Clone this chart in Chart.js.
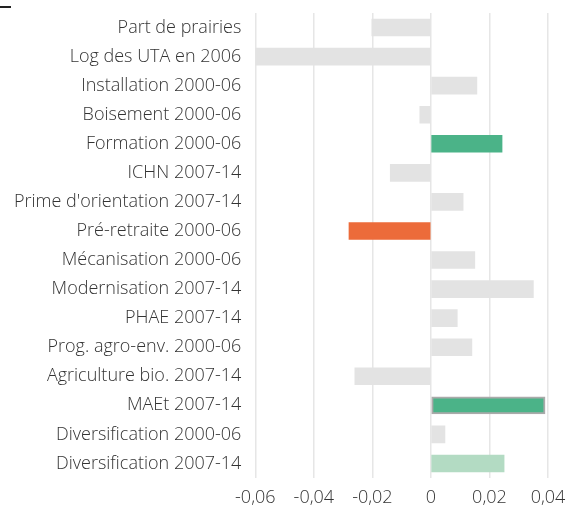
<!doctype html>
<html lang="fr">
<head>
    <meta charset="UTF-8" />
    <title>Effets des aides</title>
    <style>
        html, body { margin: 0; padding: 0; background: #fff; }
        #wrap { position: relative; width: 566px; height: 510px; }
        #dash { position: absolute; left: 0; top: 6px; width: 11px; height: 2px; background: #222; }
        canvas { display: block; }
    </style>
</head>
<body>
    <div id="wrap">
        <div id="dash"></div>
        <canvas id="chart" width="566" height="510"></canvas>
    </div>
    <script src="https://cdn.jsdelivr.net/npm/chart.js"></script>
    <script>
        const LABELS = [
            'Part de prairies',
            'Log des UTA en 2006',
            'Installation 2000-06',
            'Boisement 2000-06',
            'Formation 2000-06',
            'ICHN 2007-14',
            "Prime d'orientation 2007-14",
            'Pré-retraite 2000-06',
            'Mécanisation 2000-06',
            'Modernisation 2007-14',
            'PHAE 2007-14',
            'Prog. agro-env. 2000-06',
            'Agriculture bio. 2007-14',
            'MAEt 2007-14',
            'Diversification 2000-06',
            'Diversification 2007-14',
        ];
        const VALUES = [
            -0.0202, -0.06, 0.0157, -0.0038, 0.0243, -0.0139, 0.011, -0.028,
            0.015, 0.035, 0.009, 0.014, -0.026, 0.039, 0.0048, 0.025,
        ];
        const TICKS = [-0.06, -0.04, -0.02, 0, 0.02, 0.04];

        // colour per bar: grey unless highlighted
        const GREY = '#e3e3e3';
        const COLORS = LABELS.map(() => GREY);
        COLORS[4] = '#4bb388';
        COLORS[7] = '#ec6b3a';
        COLORS[13] = '#4bb388';
        COLORS[15] = '#b3dbc3';
        const BORDERS = LABELS.map((_, i) => (i === 13 ? 2 : 0));

        Chart.defaults.font.family = '"Open Sans", sans-serif';
        Chart.defaults.font.size = 18;
        Chart.defaults.font.weight = '300';
        Chart.defaults.color = '#333';

        // drop the extra room chart.js reserves for half-labels, layout padding handles it
        function noEdgePadding(scale) {
            scale.paddingTop = 0;
            scale.paddingBottom = 0;
            scale.paddingLeft = 0;
            scale.paddingRight = 0;
        }

        new Chart(document.getElementById('chart'), {
            type: 'bar',
            data: {
                labels: LABELS,
                datasets: [{
                    data: VALUES,
                    backgroundColor: COLORS,
                    borderColor: '#aaaaaa',
                    borderWidth: BORDERS,
                    borderSkipped: false,
                    barThickness: 17,
                }],
            },
            options: {
                indexAxis: 'y',
                responsive: false,
                animation: false,
                layout: { padding: { top: 13, right: 18, left: 0, bottom: 0 } },
                plugins: { legend: { display: false }, tooltip: { enabled: false } },
                scales: {
                    x: {
                        min: -0.06,
                        max: 0.04,
                        afterBuildTicks: (axis) => {
                            axis.ticks = TICKS.map((v) => ({ value: v }));
                        },
                        afterFit: (scale) => {
                            noEdgePadding(scale);
                            scale.height = 32;
                        },
                        ticks: {
                            padding: 9,
                            callback: (v) => String(Math.round(v * 100) / 100).replace('.', ','),
                        },
                        grid: { color: '#e6e6e6', lineWidth: 1.5, drawTicks: false },
                        border: { display: false },
                    },
                    y: {
                        afterFit: noEdgePadding,
                        grid: { display: false, drawTicks: false },
                        border: { display: false },
                        ticks: { padding: 14 },
                    },
                },
            },
        });
    </script>
</body>
</html>
